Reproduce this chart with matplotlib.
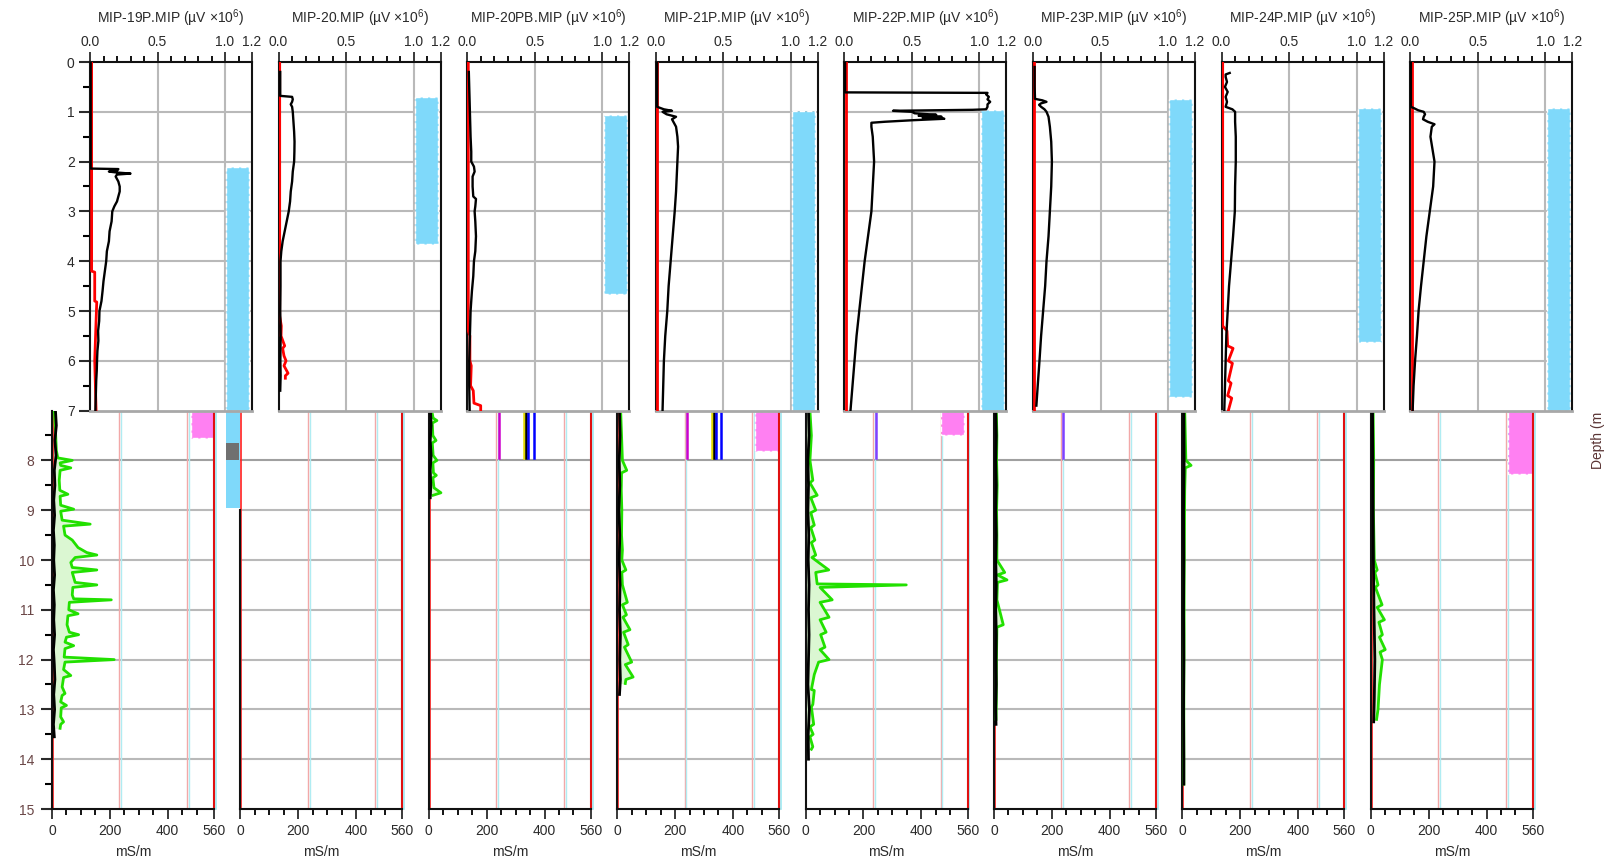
import numpy as np
import matplotlib
matplotlib.use("Agg")
import matplotlib.pyplot as plt
from matplotlib.patches import Rectangle

plt.rcParams['font.family'] = ['Liberation Sans', 'DejaVu Sans']
plt.rcParams['mathtext.fontset'] = 'custom'
plt.rcParams['mathtext.rm'] = 'Liberation Sans'

wells = ["MIP-19P", "MIP-20", "MIP-20PB", "MIP-21P",
         "MIP-22P", "MIP-23P", "MIP-24P", "MIP-25P"]

# ---- upper logs: MIP detector (uV x 10^6), (depth m, value) pairs ----
mip19 = [(0.0, 0.005), (2.14, 0.005), (2.15, 0.21), (2.18, 0.2), (2.2, 0.14), (2.22, 0.2),
         (2.24, 0.30), (2.26, 0.2), (2.3, 0.19), (2.4, 0.21), (2.5, 0.22), (2.6, 0.22),
         (2.7, 0.21), (2.8, 0.2), (2.9, 0.18), (3.0, 0.165), (3.2, 0.16), (3.4, 0.145),
         (3.6, 0.14), (3.8, 0.125), (4.0, 0.12), (4.2, 0.11), (4.4, 0.1), (4.6, 0.093),
         (4.8, 0.085), (5.0, 0.07), (5.2, 0.068), (5.4, 0.06), (5.6, 0.062), (5.8, 0.055),
         (6.0, 0.052), (6.2, 0.05), (6.4, 0.046), (6.6, 0.044), (6.8, 0.042), (7.0, 0.04)]
mip20 = [(0.2, 0.012), (0.68, 0.012), (0.7, 0.1), (0.75, 0.105), (0.8, 0.1), (0.85, 0.09),
         (0.9, 0.1), (1.0, 0.105), (1.2, 0.11), (1.4, 0.115), (1.6, 0.118), (1.8, 0.117),
         (2.0, 0.115), (2.2, 0.105), (2.4, 0.1), (2.6, 0.09), (2.8, 0.085), (3.0, 0.075),
         (3.2, 0.06), (3.4, 0.045), (3.6, 0.03), (3.8, 0.02), (4.0, 0.014), (4.5, 0.014),
         (5.0, 0.012), (5.5, 0.015), (6.0, 0.013), (6.3, 0.015), (6.6, 0.012)]
mip20pb = [(0.2, 0.012), (0.5, 0.015), (1.0, 0.02), (1.5, 0.025), (1.8, 0.03), (2.0, 0.03),
           (2.1, 0.05), (2.2, 0.055), (2.3, 0.04), (2.5, 0.04), (2.7, 0.045), (2.75, 0.065),
           (2.9, 0.06), (3.0, 0.055), (3.2, 0.06), (3.5, 0.065), (3.8, 0.06), (4.0, 0.05),
           (4.3, 0.045), (4.6, 0.035), (5.0, 0.025), (5.5, 0.02), (6.0, 0.015), (6.5, 0.015),
           (7.0, 0.018)]
mip21 = [(0.0, 0.01), (0.9, 0.01), (0.95, 0.06), (0.98, 0.12), (1.0, 0.05), (1.05, 0.08),
         (1.1, 0.15), (1.15, 0.12), (1.2, 0.13), (1.3, 0.15), (1.5, 0.16), (1.7, 0.165),
         (2.0, 0.16), (2.3, 0.155), (2.6, 0.15), (3.0, 0.14), (3.5, 0.125), (4.0, 0.11),
         (4.5, 0.095), (5.0, 0.085), (5.5, 0.07), (6.0, 0.06), (6.5, 0.055), (7.0, 0.05)]
mip22 = [(0.0, 0.005), (0.61, 0.005), (0.62, 1.06), (0.65, 1.05), (0.7, 1.07), (0.75, 1.06),
         (0.8, 1.08), (0.85, 1.06), (0.9, 1.06), (0.95, 1.05), (0.96, 0.95), (0.98, 0.36),
         (1.0, 0.5), (1.03, 0.52), (1.06, 0.68), (1.08, 0.55), (1.1, 0.72), (1.12, 0.58),
         (1.14, 0.74), (1.17, 0.5), (1.2, 0.3), (1.22, 0.2), (1.3, 0.2), (1.5, 0.21),
         (1.75, 0.215), (2.0, 0.22), (2.5, 0.21), (3.0, 0.2), (3.5, 0.175), (4.0, 0.15),
         (4.5, 0.13), (5.0, 0.11), (5.5, 0.09), (6.0, 0.075), (6.5, 0.06), (7.0, 0.045)]
mip23 = [(0.1, 0.012), (0.5, 0.012), (0.74, 0.015), (0.77, 0.07), (0.8, 0.1), (0.83, 0.06),
         (0.86, 0.045), (0.9, 0.06), (0.95, 0.085), (1.0, 0.1), (1.1, 0.115), (1.3, 0.125),
         (1.6, 0.135), (2.0, 0.14), (2.5, 0.135), (3.0, 0.125), (3.5, 0.115), (4.0, 0.1),
         (4.5, 0.09), (5.0, 0.075), (5.5, 0.06), (6.0, 0.048), (6.5, 0.035), (6.9, 0.025)]
mip24 = [(0.22, 0.06), (0.25, 0.03), (0.3, 0.03), (0.4, 0.04), (0.5, 0.025), (0.6, 0.045),
         (0.7, 0.03), (0.8, 0.04), (0.9, 0.03), (0.95, 0.08), (1.0, 0.1), (1.2, 0.1),
         (1.5, 0.105), (2.0, 0.105), (2.5, 0.1), (3.0, 0.098), (3.5, 0.085), (4.0, 0.07),
         (4.5, 0.055), (5.0, 0.045), (5.5, 0.035), (6.0, 0.03), (6.5, 0.025), (7.0, 0.02)]
mip25 = [(0.0, 0.005), (0.9, 0.005), (0.93, 0.03), (0.97, 0.06), (1.0, 0.1), (1.05, 0.11),
         (1.1, 0.1), (1.15, 0.095), (1.2, 0.13), (1.25, 0.18), (1.3, 0.16), (1.5, 0.15),
         (1.75, 0.165), (2.0, 0.18), (2.5, 0.17), (3.0, 0.145), (3.5, 0.12), (4.0, 0.1),
         (4.5, 0.08), (5.0, 0.062), (5.5, 0.05), (6.0, 0.036), (6.5, 0.025), (7.0, 0.018)]

# red trace near zero
red19 = [(0.0, 0.012), (4.2, 0.012), (4.22, 0.035), (4.8, 0.035), (4.82, 0.05), (5.2, 0.045),
         (5.6, 0.04), (6.0, 0.035), (6.5, 0.04), (7.0, 0.045)]
red20 = [(0.0, 0.008), (5.1, 0.008), (5.3, 0.02), (5.5, 0.018), (5.7, 0.045), (5.75, 0.03),
         (5.9, 0.04), (6.0, 0.055), (6.1, 0.04), (6.25, 0.07), (6.3, 0.05), (6.35, 0.05)]
red20pb = [(0.0, 0.008), (5.4, 0.008), (5.5, 0.02), (6.0, 0.02), (6.1, 0.03), (6.5, 0.025),
           (6.6, 0.045), (6.85, 0.05), (6.9, 0.1), (7.0, 0.1)]
red21 = [(0.0, 0.01), (7.0, 0.01)]
red22 = [(0.0, 0.01), (7.0, 0.01)]
red23 = [(0.0, 0.008), (7.0, 0.008)]
red24 = [(0.0, 0.008), (5.3, 0.008), (5.4, 0.04), (5.7, 0.045), (5.75, 0.085), (6.0, 0.05),
         (6.05, 0.08), (6.4, 0.05), (6.45, 0.07), (6.7, 0.045), (6.75, 0.075), (7.0, 0.05)]
red25 = [(0.0, 0.01), (7.0, 0.01)]

# blue interval bars (depth from / to); the first one runs on below 7 m
bar_top = [2.1, 0.7, 1.07, 0.98, 0.97, 0.74, 0.93, 0.93]
bar_bot = [7.0, 3.65, 4.65, 7.0, 7.0, 6.73, 5.62, 7.0]
bar19_tail = (7.0, 8.96)
box19_tail = (7.66, 8.0)

# ---- lower logs: EC (mS/m), (depth m, value) pairs ----
ec19_g = [(7.0, 8), (7.4, 12), (7.8, 15), (7.95, 20), (8.0, 70), (8.05, 28), (8.1, 30),
          (8.15, 65), (8.2, 28), (8.4, 25), (8.6, 27), (8.68, 55), (8.72, 28), (8.9, 30),
          (8.98, 75), (9.02, 30), (9.2, 35), (9.28, 132), (9.32, 40), (9.5, 45), (9.6, 70),
          (9.75, 90), (9.85, 120), (9.9, 155), (9.95, 80), (10.05, 65), (10.15, 70),
          (10.2, 155), (10.25, 70), (10.35, 75), (10.45, 80), (10.5, 155), (10.55, 72),
          (10.7, 70), (10.78, 75), (10.8, 205), (10.85, 60), (11.0, 58), (11.08, 90),
          (11.12, 55), (11.3, 52), (11.45, 60), (11.5, 92), (11.55, 50), (11.65, 45),
          (11.72, 75), (11.78, 45), (11.95, 42), (12.0, 215), (12.05, 45), (12.2, 40),
          (12.32, 65), (12.36, 40), (12.55, 35), (12.68, 45), (12.72, 35), (12.85, 30),
          (12.92, 50), (12.97, 32), (13.15, 30), (13.25, 40), (13.3, 30), (13.38, 28)]
ec19_k = [(7.0, 12), (7.3, 15), (7.6, 10), (7.9, 14), (8.2, 8), (8.5, 10), (8.8, 6),
          (9.1, 9), (9.4, 5), (9.7, 8), (10.0, 6), (10.3, 9), (10.6, 5), (10.9, 8),
          (11.2, 6), (11.5, 9), (11.8, 5), (12.1, 8), (12.4, 10), (12.7, 6), (13.0, 9),
          (13.3, 5), (13.55, 8)]
ec20_g = []
ec20_k = []
ec20pb_g = [(7.0, 10), (7.15, 15), (7.2, 28), (7.25, 12), (7.5, 14), (7.6, 25), (7.65, 12),
            (7.9, 15), (8.0, 28), (8.05, 14), (8.25, 16), (8.3, 26), (8.35, 14), (8.55, 18),
            (8.65, 42), (8.7, 15)]
ec20pb_k = [(7.0, 6), (7.3, 8), (7.6, 5), (7.9, 8), (8.2, 5), (8.5, 7), (8.75, 5)]
ec21_g = [(7.0, 12), (7.5, 15), (8.0, 18), (8.2, 33), (8.25, 15), (8.6, 14), (9.0, 16),
          (9.5, 15), (9.8, 18), (10.0, 16), (10.2, 30), (10.25, 16), (10.5, 18), (10.85, 35),
          (10.9, 18), (11.1, 32), (11.15, 20), (11.4, 44), (11.45, 22), (11.7, 38),
          (11.75, 25), (12.05, 50), (12.1, 28), (12.35, 55), (12.4, 30), (12.48, 28)]
ec21_k = [(7.0, 8), (7.5, 10), (8.0, 7), (8.5, 9), (9.0, 6), (9.5, 9), (10.0, 7), (10.5, 10),
          (11.0, 8), (11.5, 11), (12.0, 9), (12.4, 11), (12.7, 8)]
ec22_g = [(7.0, 15), (7.5, 20), (8.0, 15), (8.4, 25), (8.45, 15), (8.7, 40), (8.75, 18),
          (9.0, 35), (9.05, 18), (9.3, 30), (9.35, 18), (9.6, 32), (9.65, 20), (9.9, 35),
          (9.95, 22), (10.2, 80), (10.25, 35), (10.48, 40), (10.5, 348), (10.55, 50),
          (10.8, 92), (10.85, 50), (11.15, 81), (11.2, 50), (11.45, 71), (11.5, 52),
          (11.75, 67), (11.8, 50), (12.0, 81), (12.05, 45), (12.3, 30), (12.6, 20),
          (12.62, 30), (12.9, 25), (12.95, 20), (13.3, 28), (13.35, 15), (13.5, 26),
          (13.55, 15), (13.75, 25), (13.8, 20)]
ec22_k = [(7.0, 10), (7.5, 12), (8.0, 8), (8.5, 10), (9.0, 8), (9.5, 11), (10.0, 9),
          (10.5, 12), (11.0, 10), (11.5, 12), (12.0, 10), (12.5, 8), (13.0, 13), (13.5, 9),
          (14.0, 10)]
ec23_g = [(7.0, 8), (7.5, 10), (8.0, 9), (8.5, 11), (9.0, 9), (9.5, 10), (10.0, 10),
          (10.25, 37), (10.3, 12), (10.4, 45), (10.45, 12), (10.8, 10), (11.3, 32),
          (11.35, 10), (11.8, 9), (12.3, 8), (12.8, 8), (13.2, 7)]
ec23_k = [(7.0, 6), (7.5, 8), (8.0, 6), (8.5, 8), (9.0, 6), (9.5, 8), (10.0, 6), (10.5, 8),
          (11.0, 6), (11.5, 8), (12.0, 7), (12.5, 8), (13.0, 6), (13.3, 7)]
ec24_g = [(7.0, 8), (7.5, 10), (8.0, 12), (8.1, 30), (8.15, 10), (8.6, 8), (9.5, 7),
          (10.5, 6), (11.5, 6), (12.5, 5), (13.5, 5), (14.5, 5)]
ec24_k = [(7.0, 5), (8.0, 6), (9.0, 4), (10.0, 5), (11.0, 4), (12.0, 5), (13.0, 4),
          (14.0, 5), (14.5, 5)]
ec25_g = [(7.0, 8), (8.0, 10), (9.0, 9), (10.0, 12), (10.2, 22), (10.25, 14), (10.5, 25),
          (10.55, 16), (10.9, 39), (10.95, 22), (11.2, 47), (11.25, 28), (11.5, 40),
          (11.55, 30), (11.8, 50), (11.85, 32), (12.0, 40), (12.5, 30), (13.0, 25),
          (13.2, 20)]
ec25_k = [(7.0, 6), (8.0, 7), (9.0, 8), (10.0, 9), (11.0, 11), (12.0, 14), (12.8, 12),
          (13.25, 10)]

# magenta blocks in the 7-8 m strip (x from, x to, depth from, depth to)
pink_blocks = [(480, 560, 7.0, 7.55), None, None, (475, 560, 7.0, 7.82),
               (468, 548, 7.0, 7.48), None, None, (473, 560, 7.0, 8.28)]
# short vertical marker lines in the strip (x, colour)
strip_marks = [[], [], [(242, '#cc00cc'), (330, '#e0d800'), (336, '#000000'), (343, '#0000ff'), (365, '#0000ff')],
               [(242, '#cc00cc'), (328, '#e0d800'), (334, '#000000'), (341, '#0000ff'), (360, '#0000ff')],
               [(242, '#8040ff')], [(240, '#8040ff')], [], []]

mip_k = [mip19, mip20, mip20pb, mip21, mip22, mip23, mip24, mip25]
mip_r = [red19, red20, red20pb, red21, red22, red23, red24, red25]
ec_g = [ec19_g, ec20_g, ec20pb_g, ec21_g, ec22_g, ec23_g, ec24_g, ec25_g]
ec_k = [ec19_k, ec20_k, ec20pb_k, ec21_k, ec22_k, ec23_k, ec24_k, ec25_k]

W, H = 1618, 863
GRID = '#b9b9b9'
TXT = '#2a2a2a'
FS = 10
BLUE = '#7fd9fa'


def frac(x0, y0, w, h):
    return [x0 / W, 1 - (y0 + h) / H, w / W, h / H]


def xy(pairs):
    a = np.array(pairs, dtype=float)
    return a[:, 0], a[:, 1]


fig = plt.figure(figsize=(W / 100, H / 100), dpi=100)

# upper row (drawn above the lower row so the "7" label stays visible)
for i, name in enumerate(wells):
    ax = fig.add_axes(frac(90 + 188.6 * i, 62, 162, 348.6))
    ax.set_zorder(2)
    ax.set_xlim(0, 1.2)
    ax.set_ylim(7, 0)
    for d in range(1, 7):
        ax.axhline(d, color=GRID, lw=1.5, zorder=0)
    for x in (0.5, 1.0):
        ax.axvline(x, color=GRID, lw=1.5, zorder=0)
    ax.add_patch(Rectangle((1.01, bar_top[i]), 0.17, bar_bot[i] - bar_top[i],
                           fc=BLUE, ec='white', ls='--', lw=1, zorder=1))
    d, v = xy(mip_r[i])
    ax.plot(v, d, color='#ff0000', lw=2, zorder=3)
    d, v = xy(mip_k[i])
    ax.plot(v, d, color='black', lw=1.7, zorder=4)

    ax.xaxis.tick_top()
    ax.set_xticks([0, 0.5, 1.0, 1.2])
    ax.set_xticklabels(['0.0', '0.5', '1.0', '1.2'])
    ax.set_xticks([0.1, 0.2, 0.3, 0.4, 0.6, 0.7, 0.8, 0.9, 1.1], minor=True)
    ax.tick_params(axis='x', which='major', length=7, width=1.3, labelsize=FS, pad=2,
                   colors=TXT)
    ax.tick_params(axis='x', which='minor', length=4, width=1.3)
    if i == 0:
        ax.set_yticks(range(0, 8))
        ax.set_yticks([0.5, 1.5, 2.5, 3.5, 4.5, 5.5, 6.5], minor=True)
        ax.tick_params(axis='y', which='major', length=8, width=1.5, labelsize=FS, pad=3,
                       colors=TXT)
        ax.tick_params(axis='y', which='minor', length=5, width=1.5)
    else:
        ax.tick_params(axis='y', which='both', left=False, labelleft=False)
    for s in ('top', 'left', 'right'):
        ax.spines[s].set_linewidth(1.5)
        ax.spines[s].set_color('#111111')
    ax.spines['bottom'].set_color('#a8a8a8')
    ax.spines['bottom'].set_linewidth(2)
    ax.text(0.5, 1 + 44 / 348.6, name + '.MIP (\u00b5V $\\times$10$^{6}$)',
            transform=ax.transAxes, ha='center', va='center', fontsize=FS,
            color=TXT)

# lower row
for i, name in enumerate(wells):
    ax = fig.add_axes(frac(52 + 188.4 * i, 410.6, 162, 398.4))
    ax.set_zorder(1)
    ax.set_facecolor('white')
    ax.set_xlim(0, 560)
    ax.set_ylim(15, 7)
    for d in range(8, 15):
        ax.axhline(d, color='#a0a0a0' if d == 8 else GRID, lw=1.5, zorder=0)
    for x in (233.3, 466.7):
        ax.axvline(x, color='#f2a8a8', lw=1, zorder=0)
        ax.axvline(x + 6, color='#b0ecf2', lw=1, zorder=0)
    ax.axvline(566, color='#9eeaf2', lw=1.2, zorder=0, clip_on=False)
    ax.axvline(3, color='#ff2020', lw=1.2, zorder=2)
    if i == 0:
        # continuation of the MIP-19P interval bar, sitting between the lower panels
        ax.add_patch(Rectangle((601, bar19_tail[0]), 48, bar19_tail[1] - bar19_tail[0],
                               fc=BLUE, ec='none', zorder=1, clip_on=False))
        ax.add_patch(Rectangle((601, box19_tail[0]), 44, box19_tail[1] - box19_tail[0],
                               fc='#707070', ec='none', zorder=2, clip_on=False))
    if pink_blocks[i] is not None:
        x0, x1, d0, d1 = pink_blocks[i]
        ax.add_patch(Rectangle((x0, d0), x1 - x0, d1 - d0, fc='#ff80f2', ec='white',
                               ls='--', lw=1, zorder=1))
    for x, c in strip_marks[i]:
        ax.plot([x, x], [7.0, 7.95], color=c, lw=1.8, zorder=2)
    if ec_g[i]:
        d, v = xy(ec_g[i])
        ax.fill_betweenx(d, 0, v, color='#dbf7d2', lw=0, zorder=1)
        ax.plot(v, d, color='#22e000', lw=2, zorder=3)
    if ec_k[i]:
        d, v = xy(ec_k[i])
        ax.plot(v, d, color='black', lw=2, zorder=4)

    ax.set_xticks([0, 200, 400, 560])
    ax.set_xticks([50, 100, 150, 250, 300, 350, 450, 500], minor=True)
    ax.tick_params(axis='x', which='major', length=7, width=1.3, labelsize=FS, pad=4,
                   colors=TXT)
    ax.tick_params(axis='x', which='minor', length=4, width=1.3)
    ax.set_xlabel('mS/m', fontsize=FS, labelpad=5, color=TXT)
    if i == 0:
        ax.set_yticks(range(8, 16))
        ax.set_yticks([7.5, 8.5, 9.5, 10.5, 11.5, 12.5, 13.5, 14.5], minor=True)
        ax.tick_params(axis='y', which='major', length=8, width=1.5, labelsize=FS, pad=5,
                       colors=TXT, labelcolor='#6a4646')
        ax.tick_params(axis='y', which='minor', length=5, width=1.5)
    else:
        ax.tick_params(axis='y', which='both', left=False, labelleft=False)
    ax.spines['top'].set_visible(False)
    ax.spines['left'].set_linewidth(1.5)
    ax.spines['left'].set_color('#111111')
    if i == 1:
        ax.spines['left'].set_bounds(9, 15)
    ax.spines['right'].set_linewidth(1.5)
    ax.spines['right'].set_color('#e01010')
    ax.spines['bottom'].set_linewidth(1.5)
    ax.spines['bottom'].set_color('#111111')

fig.text(1598 / W, 1 - 440 / H, 'Depth (m', rotation=90, ha='center', va='center',
         fontsize=FS, color='#5a3434')

fig.savefig('out.png', dpi=100)
